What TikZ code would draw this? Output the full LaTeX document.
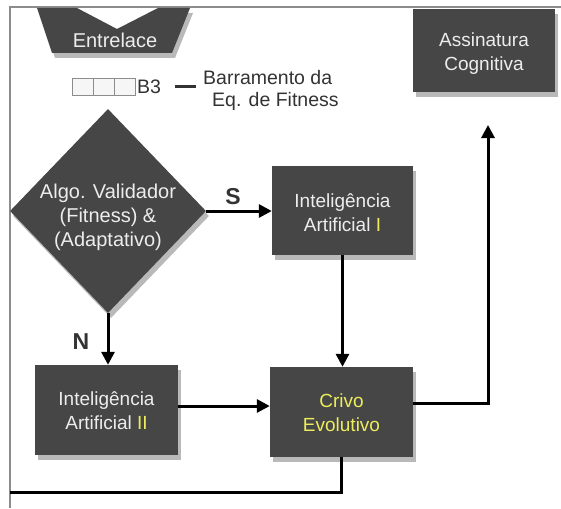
\documentclass[tikz,border=0pt]{standalone}
\usepackage{fontspec}
\setmainfont{Liberation Sans}
\usetikzlibrary{shapes.geometric,arrows.meta,shadows}
\definecolor{boxgray}{HTML}{464646}
\definecolor{boxtext}{HTML}{EDEDED}
\definecolor{hilite}{HTML}{ECEC5C}
\definecolor{framegray}{HTML}{8C8C8C}
\definecolor{labelgray}{HTML}{333333}
\definecolor{cellfill}{HTML}{F6F6F6}

\begin{document}
\begin{tikzpicture}[x=1pt,y=-1pt,
  boxshadow/.style={drop shadow={shadow xshift=3pt, shadow yshift=-5pt, opacity=0.55}},
  procbox/.style={rectangle, fill=boxgray, inner sep=0pt, boxshadow},
  boxlabel/.style={text=boxtext, align=center, inner sep=0pt,
    font=\fontsize{19}{24}\selectfont},
  decision/.style={diamond, fill=boxgray, inner sep=0pt, boxshadow,
    minimum width=196pt, minimum height=204pt},
  flow/.style={line width=3pt, -{Triangle[length=13pt,width=13pt]}},
  link/.style={line width=3pt},
  flag/.style={font=\bfseries\fontsize{23}{24}\selectfont, text=labelgray, inner sep=0pt},
  note/.style={font=\fontsize{19.5}{23}\selectfont, text=labelgray, inner sep=0pt},
]
\useasboundingbox (0,0) rectangle (561,508);

% page frame (top and left rules)
\draw[framegray, line width=2pt] (10,508) -- (10,7) -- (561,7);

% Entrelace header with V notch
\fill[boxgray, boxshadow] (37,8) -- (77,8) -- (117,29) -- (158,8) -- (190,8)
  -- (172,53) -- (52,53) -- cycle;
\node[boxlabel, font=\fontsize{20}{24}\selectfont] (entrelace) at (115,40) {Entrelace};

% register cells and bus label
\foreach \i in {0,1,2}
  \draw[framegray, fill=cellfill, line width=0.8pt] (72+21*\i,78) rectangle ++(21,17);
\node[note, anchor=west] (reg) at (137,87) {B3};
\coordinate (dashA) at (175,87);
\coordinate (dashB) at (196,87);
\draw[labelgray, line width=3pt] (dashA) -- (dashB);
\node[note, anchor=west] (busA) at (203,78) {Barramento da};
\node[note, anchor=west] (busB) at (212,101) {Eq. de Fitness};

% process blocks
\node[procbox, minimum width=142pt, minimum height=83pt] (assin) at (484,51) {};
\node[boxlabel] (assintxt) at (484,53.5) {Assinatura\\Cognitiva};

\node[decision] (valid) at (108,211) {};
\node[boxlabel, font=\fontsize{20}{24}\selectfont] (validtxt) at (108,217)
  {Algo. Validador\\(Fitness) \&\\(Adaptativo)};

\node[procbox, minimum width=141pt, minimum height=89pt] (ia1) at (342.5,210) {};
\node[boxlabel] (ia1txt) at (342.5,213) {Inteligência\\Artificial \textcolor{hilite}{I}};

\node[procbox, minimum width=143pt, minimum height=90pt] (ia2) at (106.5,410) {};
\node[boxlabel] (ia2txt) at (106.5,411) {Inteligência\\Artificial \textcolor{hilite}{II}};

\node[procbox, minimum width=143pt, minimum height=90pt] (crivo) at (341.5,412) {};
\node[boxlabel, text=hilite] (crivotxt) at (341.5,412.5) {Crivo\\Evolutivo};

% connectors
\draw[flow] (valid.east) -- (ia1.west |- valid.east);
\node[flag] (yes) at (233,197) {S};
\draw[flow] (valid.south) -- (valid.south |- ia2.north);
\node[flag] (no) at (81,342) {N};
\draw[flow] (ia1.south) -- (ia1.south |- crivo.north);
\draw[flow] (ia2.east |- 0,406) -- (crivo.west |- 0,406);
\coordinate (uptip) at (488,125);
\draw[flow] (crivo.east |- 0,403) -| (uptip);
\coordinate (loopend) at (10,492);
\draw[link] (crivo.south) |- (loopend);
\end{tikzpicture}
\end{document}
